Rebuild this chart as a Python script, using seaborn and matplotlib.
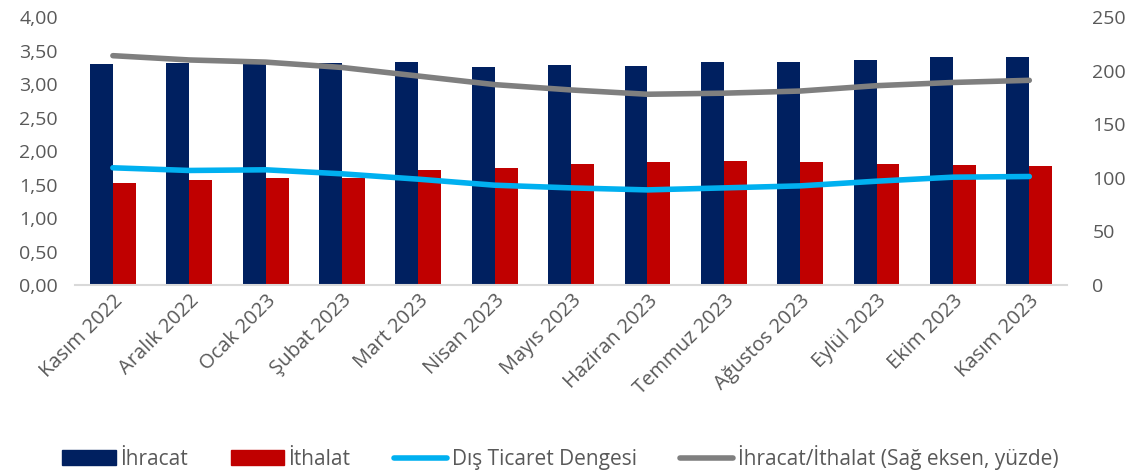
import matplotlib
matplotlib.use("Agg")
import matplotlib.pyplot as plt
import matplotlib.ticker as mticker
from matplotlib.lines import Line2D
from matplotlib.patches import Patch
import numpy as np
import pandas as pd
import seaborn as sns

# Data
months = ['Kasım 2022', 'Aralık 2022', 'Ocak 2023', 'Şubat 2023', 'Mart 2023',
          'Nisan 2023', 'Mayıs 2023', 'Haziran 2023', 'Temmuz 2023',
          'Ağustos 2023', 'Eylül 2023', 'Ekim 2023', 'Kasım 2023']
ihracat = [3.30, 3.31, 3.31, 3.31, 3.33, 3.25, 3.28, 3.27, 3.33, 3.33, 3.36, 3.40, 3.40]
ithalat = [1.52, 1.57, 1.60, 1.60, 1.72, 1.75, 1.81, 1.83, 1.85, 1.84, 1.81, 1.79, 1.78]
denge = [1.75, 1.71, 1.72, 1.66, 1.58, 1.49, 1.45, 1.42, 1.45, 1.48, 1.55, 1.61, 1.62]
oran = [214, 210, 208, 203, 195, 187, 182, 178, 179, 181, 186, 189, 191]

navy = '#002060'
red = '#C00000'
blue = '#00B0F0'
gray = '#7F7F7F'
txt = '#595959'

sns.set_style('white')
plt.rcParams['font.family'] = ['Open Sans', 'DejaVu Sans']

df = pd.DataFrame({'Ay': months * 2,
                   'Seri': ['İhracat'] * len(months) + ['İthalat'] * len(months),
                   'Değer': ihracat + ithalat})

fig = plt.figure(figsize=(11.32, 4.75), dpi=100)
ax = fig.add_axes([0.066, 0.40, 0.877, 0.564])

sns.barplot(data=df, x='Ay', y='Değer', hue='Seri', palette=[navy, red],
            width=0.6, gap=0, saturation=1, ax=ax, legend=False, errorbar=None,
            linewidth=0)

x = np.arange(len(months))
sns.lineplot(x=x, y=denge, color=blue, linewidth=4, ax=ax,
             solid_capstyle='round')

ax2 = ax.twinx()
sns.lineplot(x=x, y=oran, color=gray, linewidth=4, ax=ax2,
             solid_capstyle='round')

ax.set_ylim(0, 4)
ax.set_yticks(np.arange(0, 4.01, 0.5))
ax.yaxis.set_major_formatter(mticker.FuncFormatter(lambda v, p: f'{v:.2f}'.replace('.', ',')))
ax2.set_ylim(0, 250)
ax2.set_yticks(np.arange(0, 251, 50))
ax.set_xlim(-0.5, len(months) - 0.5)

ax.set_xlabel('')
ax.set_ylabel('')
ax2.set_ylabel('')
ax.set_xticks(x)
ax.set_xticklabels(months, rotation=45, ha='right', rotation_mode='anchor')

for a in (ax, ax2):
    for s in a.spines.values():
        s.set_visible(False)
    a.tick_params(length=0, labelsize=14, colors=txt)
ax.tick_params(axis='x', labelsize=14.5, pad=4)
ax.spines['bottom'].set_visible(True)
ax.spines['bottom'].set_color('#D9D9D9')
ax.spines['bottom'].set_linewidth(1.5)
ax.tick_params(axis='y', pad=12)
ax2.tick_params(axis='y', pad=18)

handles = [Patch(color=navy), Patch(color=red),
           Line2D([], [], color=blue, lw=4, solid_capstyle='round'),
           Line2D([], [], color=gray, lw=4, solid_capstyle='round')]
labels = ['İhracat', 'İthalat', 'Dış Ticaret Dengesi', 'İhracat/İthalat (Sağ eksen, yüzde)']
fig.legend(handles, labels, loc='center', bbox_to_anchor=(0.495, 0.037), ncol=4,
           frameon=False, fontsize=15, labelcolor=txt, handlelength=2.55,
           handletextpad=0.2, columnspacing=2.1)

fig.savefig('out.png', dpi=100)
